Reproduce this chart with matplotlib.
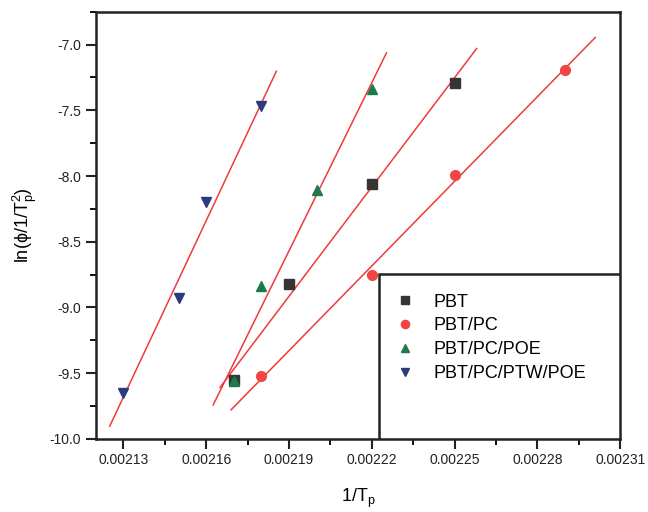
import numpy as np
import matplotlib
matplotlib.use("Agg")
import matplotlib.pyplot as plt
from matplotlib.ticker import MultipleLocator, FormatStrFormatter
from matplotlib.patches import Rectangle

plt.rcParams["font.family"] = ["Liberation Sans", "DejaVu Sans"]
plt.rcParams["axes.unicode_minus"] = False
plt.rcParams["mathtext.fontset"] = "custom"
plt.rcParams["mathtext.rm"] = "Liberation Sans"
plt.rcParams["mathtext.it"] = "Liberation Sans"

LABELS = ["PBT", "PBT/PC", "PBT/PC/POE", "PBT/PC/PTW/POE"]

PBT_X = [0.00217, 0.00219, 0.00222, 0.00225]
PBT_Y = [-9.55, -8.82, -8.06, -7.29]

PBT_PC_X = [0.00218, 0.00222, 0.00225, 0.00229]
PBT_PC_Y = [-9.52, -8.75, -7.99, -7.19]

PBT_PC_POE_X = [0.00217, 0.00218, 0.00220, 0.00222]
PBT_PC_POE_Y = [-9.56, -8.84, -8.11, -7.34]

PTW_POE_X = [0.00213, 0.00215, 0.00216, 0.00218]
PTW_POE_Y = [-9.65, -8.93, -8.20, -7.47]

# x range covered by each fitted line
FIT_RANGES = [
    (0.002165, 0.002258),
    (0.002169, 0.002301),
    (0.0021625, 0.0022253),
    (0.002125, 0.0021854),
]

MARKERS = ["s", "o", "^", "v"]
COLORS = ["#353535", "#f04545", "#1e7a4c", "#2b3b7c"]
LINE_COLOR = "#ee3b3b"


def main():
    fig = plt.figure(figsize=(6.48, 5.12), dpi=100)
    ax = fig.add_axes([0.148, 0.143, 0.809, 0.834])

    series = [
        (PBT_X, PBT_Y),
        (PBT_PC_X, PBT_PC_Y),
        (PBT_PC_POE_X, PBT_PC_POE_Y),
        (PTW_POE_X, PTW_POE_Y),
    ]

    for (xs, ys), (x0, x1) in zip(series, FIT_RANGES):
        k, b = np.polyfit(xs, ys, 1)
        lx = np.array([x0, x1])
        ax.plot(lx, k * lx + b, color=LINE_COLOR, lw=1.1, zorder=2)

    for (xs, ys), m, c, lab in zip(series, MARKERS, COLORS, LABELS):
        ax.plot(xs, ys, linestyle="none", marker=m, color=c, markersize=7,
                label=lab, zorder=3)

    ax.set_xlim(0.00212, 0.00231)
    ax.set_ylim(-10.0, -6.75)

    ax.xaxis.set_major_locator(MultipleLocator(0.00003))
    ax.xaxis.set_minor_locator(MultipleLocator(0.000015))
    ax.xaxis.set_major_formatter(FormatStrFormatter("%.5f"))
    ax.set_xticks(np.arange(0.00213, 0.002311, 0.00003))
    ax.yaxis.set_major_locator(MultipleLocator(0.5))
    ax.yaxis.set_minor_locator(MultipleLocator(0.25))
    ax.yaxis.set_major_formatter(FormatStrFormatter("%.1f"))

    ax.tick_params(which="major", direction="out", length=7, width=1.5,
                   labelsize=10, colors="#222222")
    ax.tick_params(which="minor", direction="out", length=4, width=1.3)
    for sp in ax.spines.values():
        sp.set_linewidth(1.8)
        sp.set_color("#222222")

    ax.set_xlabel(r"1/T$_\mathrm{p}$", fontsize=13, labelpad=14)
    ax.set_ylabel(r"ln($\phi$/1/T$_\mathrm{p}^\mathrm{2}$)", fontsize=13, labelpad=8)

    # legend box sits in the lower right corner, larger than its entries
    box = Rectangle((0.54, 0.0), 0.46, 0.386, transform=ax.transAxes,
                    facecolor="white", edgecolor="#222222", lw=1.8, zorder=4)
    ax.add_patch(box)
    ax.legend(loc="upper left", bbox_to_anchor=(0.532, 0.378), frameon=False,
              fontsize=13, handletextpad=0.85, labelspacing=0.38,
              handlelength=1.5, markerscale=0.85).set_zorder(5)

    fig.savefig("out.png", dpi=100)


if __name__ == "__main__":
    main()
